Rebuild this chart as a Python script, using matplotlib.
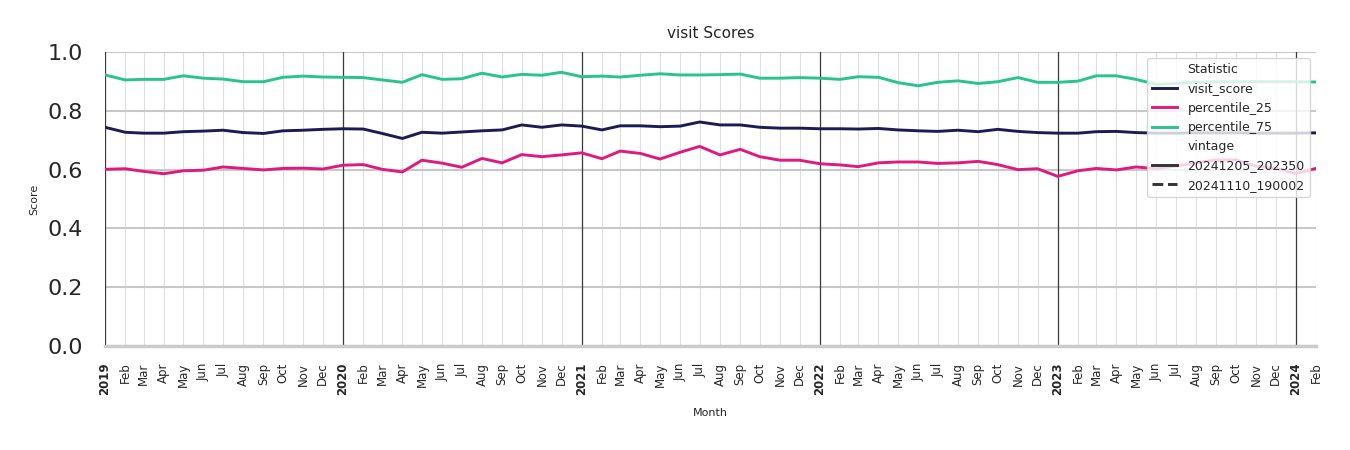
import matplotlib
matplotlib.use("Agg")
import matplotlib.pyplot as plt
from matplotlib.lines import Line2D
import numpy as np
import pandas as pd

# ---------------- data ----------------
months = pd.date_range("2019-01-01", "2024-02-01", freq="MS")

visit_score = [
    0.744, 0.727, 0.724, 0.724, 0.729, 0.731, 0.734, 0.726, 0.723, 0.732, 0.734, 0.737,
    0.739, 0.738, 0.723, 0.706, 0.727, 0.724, 0.728, 0.732, 0.735, 0.752, 0.744, 0.752,
    0.748, 0.735, 0.749, 0.749, 0.746, 0.748, 0.762, 0.752, 0.752, 0.744, 0.741, 0.741,
    0.739, 0.739, 0.738, 0.740, 0.735, 0.732, 0.730, 0.734, 0.729, 0.737, 0.730, 0.726,
    0.724, 0.724, 0.729, 0.730, 0.726, 0.724, 0.724, 0.725, 0.725, 0.725, 0.724, 0.724,
    0.724, 0.725,
]
percentile_25 = [
    0.601, 0.603, 0.594, 0.586, 0.596, 0.598, 0.609, 0.604, 0.599, 0.604, 0.605, 0.602,
    0.615, 0.617, 0.601, 0.592, 0.632, 0.622, 0.608, 0.638, 0.623, 0.651, 0.644, 0.650,
    0.657, 0.637, 0.663, 0.655, 0.636, 0.659, 0.679, 0.650, 0.669, 0.644, 0.632, 0.632,
    0.620, 0.616, 0.610, 0.623, 0.626, 0.626, 0.621, 0.623, 0.628, 0.617, 0.600, 0.603,
    0.577, 0.596, 0.604, 0.599, 0.609, 0.603, 0.612, 0.623, 0.633, 0.633, 0.612, 0.604,
    0.587, 0.604,
]
percentile_75 = [
    0.922, 0.905, 0.907, 0.907, 0.919, 0.911, 0.908, 0.899, 0.899, 0.914, 0.918, 0.915,
    0.914, 0.913, 0.905, 0.897, 0.923, 0.907, 0.909, 0.928, 0.915, 0.924, 0.921, 0.931,
    0.916, 0.918, 0.915, 0.921, 0.926, 0.922, 0.922, 0.923, 0.925, 0.911, 0.911, 0.913,
    0.911, 0.907, 0.916, 0.914, 0.896, 0.885, 0.897, 0.902, 0.893, 0.899, 0.913, 0.897,
    0.897, 0.901, 0.919, 0.919, 0.907, 0.890, 0.893, 0.897, 0.899, 0.899, 0.899, 0.899,
    0.899, 0.898,
]

series_names = ["visit_score", "percentile_25", "percentile_75"]
series_values = [visit_score, percentile_25, percentile_75]
series_colors = ["#1c1c52", "#df1a7f", "#28c38f"]
vintages = ["20241205_202350", "20241110_190002"]
vintage_styles = ["-", "--"]

# ---------------- figure ----------------
fig = plt.figure(figsize=(13.5, 4.5), dpi=100)
ax = fig.add_axes([0.0778, 0.2311, 0.8970, 0.6533])

for name, vals, col in zip(series_names, series_values, series_colors):
    ax.plot(months, vals, color=col, lw=2.1, ls=vintage_styles[0])

ax.set_xlim(months[0], months[-1])
ax.set_ylim(0, 1.0)
yt = np.arange(0, 1.01, 0.2)
ax.set_yticks(yt)
ax.set_yticklabels([f"{v:.1f}" for v in yt], fontsize=16, color="#262626")

ax.set_xticks(months)
labels = [str(m.year) if m.month == 1 else m.strftime("%b") for m in months]
ax.set_xticklabels(labels, rotation=90, fontsize=8.5, color="#262626")
for lbl, m in zip(ax.get_xticklabels(), months):
    if m.month == 1:
        lbl.set_fontweight("bold")

ax.tick_params(axis="both", length=0)
ax.tick_params(axis="x", pad=12)
ax.tick_params(axis="y", pad=16)

ax.set_axisbelow(True)
ax.yaxis.grid(True, color="#c8c8c8", lw=1.5)
ax.xaxis.grid(True, color="#dedede", lw=0.8)
for m in months:
    if m.month == 1:
        ax.axvline(m, color="#3a3a3a", lw=0.9, zorder=1.5)

for s in ["left", "right", "top"]:
    ax.spines[s].set_visible(False)
ax.spines["bottom"].set_color("#cccccc")
ax.spines["bottom"].set_linewidth(2.5)

ax.set_title("visit Scores", fontsize=11, color="#262626", pad=10)
ax.set_ylabel("Score", fontsize=8, color="#262626", labelpad=6)
ax.set_xlabel("Month", fontsize=8, color="#262626", labelpad=9)

handles = [Line2D([], [], color="none", label="Statistic")]
for name, col in zip(series_names, series_colors):
    handles.append(Line2D([], [], color=col, lw=2.1, label=name))
handles.append(Line2D([], [], color="none", label="vintage"))
for v, st in zip(vintages, vintage_styles):
    handles.append(Line2D([], [], color="#333333", lw=2.1, ls=st, label=v))
leg = ax.legend(handles=handles, loc="upper right", fontsize=9, framealpha=0.8,
                edgecolor="#cccccc", fancybox=True)
for t in leg.get_texts():
    t.set_color("#262626")

fig.savefig("out.png", dpi=100)
